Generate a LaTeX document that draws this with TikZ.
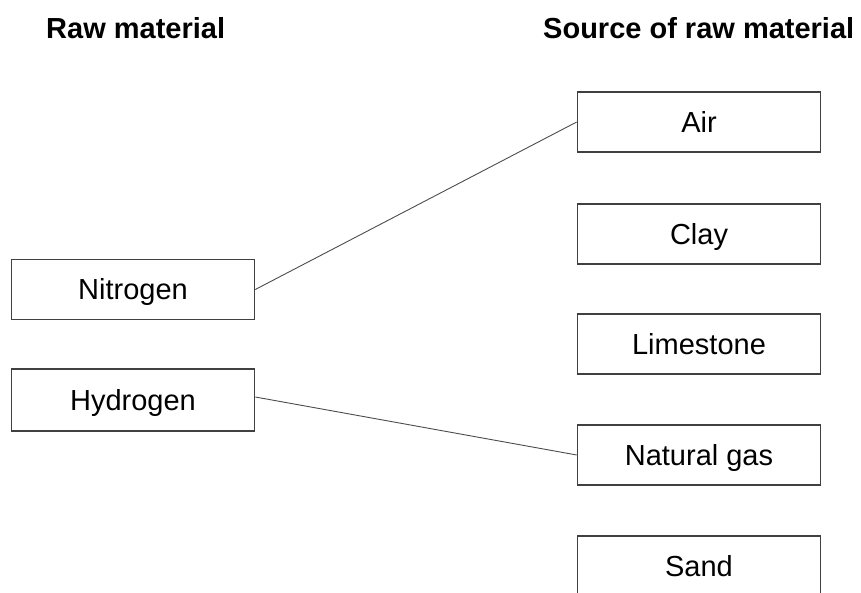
\documentclass[tikz,border=0pt]{standalone}
\usepackage{fontspec}
\setmainfont{Liberation Sans}
\begin{document}
\begin{tikzpicture}[x=1pt,y=-1pt,
  box/.style={draw=black!75, line width=1.6pt, rectangle, inner sep=0pt,
    minimum width=243pt, minimum height=60pt, font=\fontsize{29}{34}\selectfont,
    text height=21pt, text depth=0pt},
  head/.style={anchor=base west, inner sep=0pt, font=\fontsize{29}{34}\selectfont\bfseries},
  link/.style={draw=black!70, line width=0.9pt}]
\useasboundingbox (0,0) rectangle (861,593);
\node[head] (h1) at (46,39) {Raw material};
\node[head] (h2) at (543,39) {Source of raw material};
\node[box] (nit) at (133,289.5) {Nitrogen};
\node[box, minimum height=62pt] (hyd) at (133,400) {Hydrogen};
\node[box] (air) at (699,122) {Air};
\node[box] (clay) at (699,234) {Clay};
\node[box] (lime) at (699,344) {Limestone};
\node[box] (gas) at (699,455) {Natural gas};
\node[box] (sand) at (699,566) {Sand};
\draw[link] (nit.east) -- (air.west);
\draw[link] ([yshift=3pt]hyd.east) -- (gas.west);
\end{tikzpicture}
\end{document}
